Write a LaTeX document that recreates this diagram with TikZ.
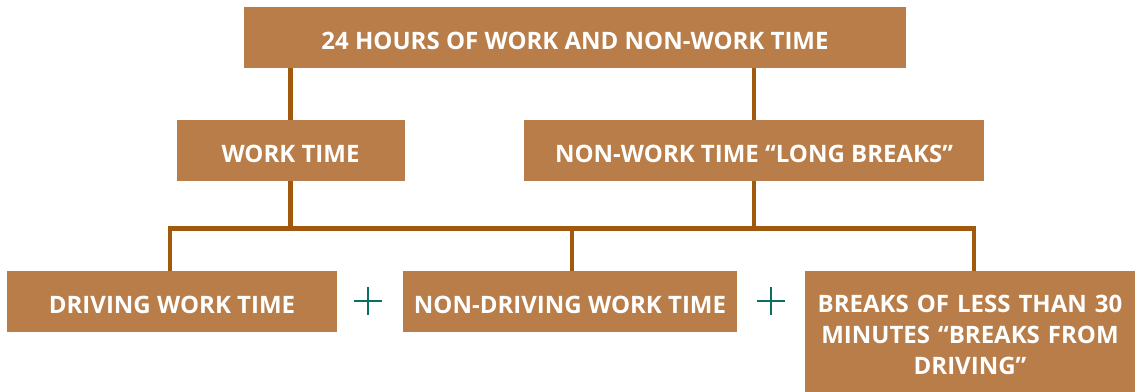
\documentclass[tikz,border=0pt]{standalone}
\usepackage{fontspec}
\setmainfont{Open Sans}
\definecolor{boxfill}{HTML}{B87D48}
\definecolor{linecol}{HTML}{A15A0D}
\definecolor{pluscol}{HTML}{0B6E62}
\begin{document}
\begin{tikzpicture}[x=1pt,y=-1pt,
  box/.style={fill=boxfill, draw=none, inner sep=0pt, text=white, text height=25pt,
    font=\fontsize{24}{31}\selectfont\bfseries, align=center},
  conn/.style={draw=linecol, line width=4.5pt, line join=miter, line cap=butt},
  plussign/.style={minimum size=28pt, inner sep=0pt, path picture={
    \draw[pluscol, line width=2.8pt] (path picture bounding box.north) -- (path picture bounding box.south)
      (path picture bounding box.west) -- (path picture bounding box.east);}}]
\useasboundingbox (0,0) rectangle (1138,391);
\node[box, minimum width=662pt, minimum height=61pt] (top) at (575,37.5) {24 HOURS OF WORK AND NON-WORK TIME};
\node[box, minimum width=228pt, minimum height=61pt] (work) at (290.5,150.5) {WORK TIME};
\node[box, minimum width=460pt, minimum height=61pt] (nonwork) at (754,150.5) {NON-WORK TIME “LONG BREAKS”};
\node[box, minimum width=330pt, minimum height=61pt] (driving) at (172,301.5) {DRIVING WORK TIME};
\node[box, minimum width=334pt, minimum height=61pt] (nondriving) at (570,301.5) {NON-DRIVING WORK TIME};
\node[box, minimum width=330pt, minimum height=121pt, text width=320pt] (breaks) at (970,331.5) {BREAKS OF LESS THAN 30\\MINUTES “BREAKS FROM\\DRIVING”};
\node[plussign] (p1) at (368,301) {};
\node[plussign] (p2) at (771,301) {};
\coordinate (bl) at (170,228.5);
\coordinate (bm) at (572,228.5);
\coordinate (br) at (974,228.5);
\draw[conn] (top.south -| work.north) -- (work.north);
\draw[conn] (top.south -| nonwork.north) -- (nonwork.north);
\draw[conn] (work.south) -- (work.south |- bm);
\draw[conn] (nonwork.south) -- (nonwork.south |- bm);
\draw[conn] (driving.north -| bl) -- (bl) -- (br) -- (breaks.north -| br);
\draw[conn] (bm) -- (nondriving.north -| bm);
\end{tikzpicture}
\end{document}
